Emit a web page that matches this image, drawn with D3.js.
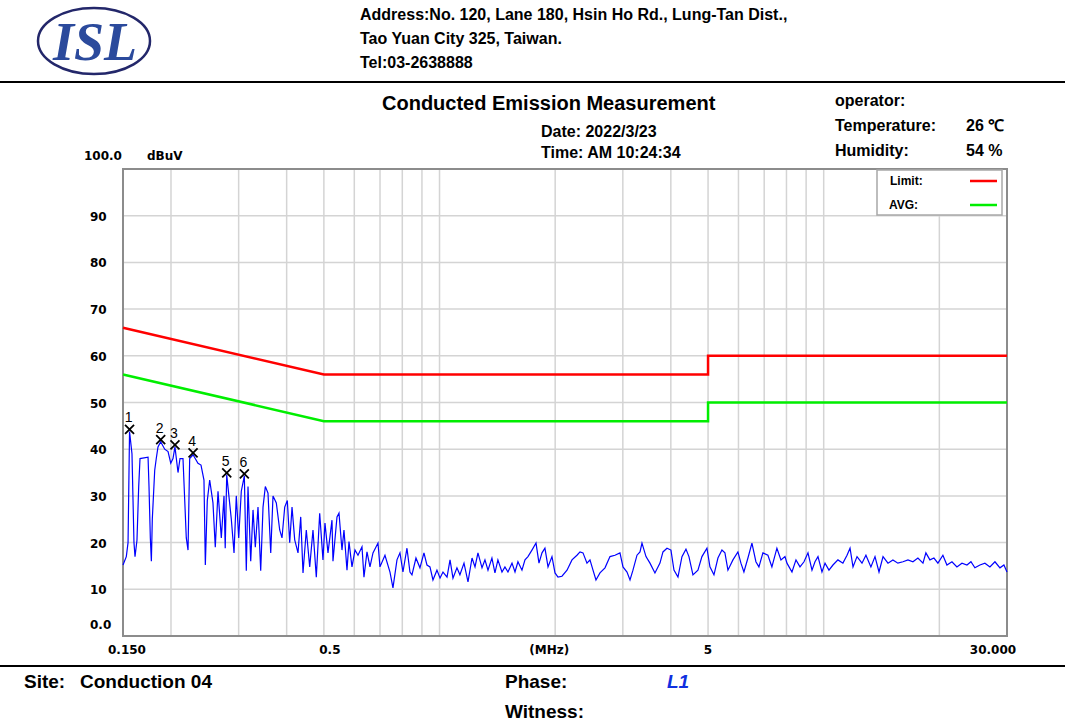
<!DOCTYPE html>
<html>
  <head>
    <meta charset="utf-8">
    <style type="text/css">
      body { margin: 0; background: #fff; }
      svg text { font-family: "Liberation Sans", Arial, sans-serif; }
      .hdr { font-size: 16px; font-weight: bold; }
      .foot { font-size: 19px; font-weight: bold; }
      .tick { font-family: "DejaVu Sans", Verdana, sans-serif !important; font-size: 12px; font-weight: bold; }
      .grid line { stroke: #d4d4d4; stroke-width: 1.5; }
    </style>
  </head>
  <body>
    <script src="https://d3js.org/d3.v7.min.js"></script>
    <script>
      var traceFreq = [0.150,0.153,0.1546,0.156,0.1583,0.1602,0.1612,0.1631,0.1648,0.1661,0.1743,0.1753,0.1767,0.1778,0.1788,0.1814,0.1831,0.1850,0.188,0.1926,
        0.1965,0.1997,0.2024,0.2048,0.2086,0.2111,0.2149,0.2192,0.2215,0.2237,0.2283,0.2351,0.2394,0.2437,0.2457,0.2486,0.2522,0.2572,0.2608,0.2651,
        0.2704,0.2748,0.2768,0.2793,0.2871,0.2918,0.2958,0.3001,0.3048,0.3104,0.3141,0.3173,0.3225,0.3270,0.3315,0.3369,0.3424,0.3472,0.3520,0.3577,
        0.3636,0.3686,0.3760,0.3837,0.3890,0.3954,0.4016,0.4074,0.4131,0.4198,0.4282,0.4352,0.4412,0.4500,0.4593,0.4684,0.4778,0.4876,0.4973,0.5033,
        0.5125,0.5249,0.5280,0.5409,0.5474,0.5573,0.5640,0.5743,0.5812,0.5917,0.6025,0.6134,0.6283,0.6358,0.6474,0.6591,0.6711,0.6915,0.6998,0.7211,
        0.7431,0.7565,0.7749,0.7889,0.8032,0.8227,0.8376,0.8477,0.8683,0.8893,0.9109,0.9274,0.9443,0.9614,0.9847,1.003,1.021,1.046,1.065,1.084,
        1.110,1.130,1.158,1.186,1.215,1.237,1.259,1.290,1.313,1.337,1.369,1.394,1.419,1.454,1.480,1.507,1.544,1.572,1.600,1.639,
        1.669,1.699,1.740,1.783,1.815,1.848,1.881,1.916,1.962,1.998,2.034,2.083,2.147,2.212,2.279,2.321,2.363,2.420,2.464,2.509,
        2.554,2.616,2.696,2.778,2.862,2.949,3.003,3.076,3.132,3.188,3.266,3.325,3.365,3.447,3.530,3.637,3.748,3.816,3.909,4.003,
        4.076,4.175,4.276,4.380,4.459,4.567,4.706,4.820,4.967,5.057,5.180,5.305,5.434,5.532,5.633,5.804,5.980,6.089,6.199,6.350,
        6.504,6.661,6.782,6.947,7.158,7.331,7.554,7.740,7.928,8.024,8.268,8.469,8.675,8.886,9.101,9.322,9.491,9.663,9.897,10.08,
        10.32,10.57,10.89,11.22,11.50,11.71,11.92,12.21,12.58,12.88,13.27,13.60,13.93,14.27,14.70,15.14,15.60,16.08,16.57,17.07,
        17.59,18.13,18.45,18.90,19.36,19.83,20.43,20.93,21.57,22.22,22.90,23.60,24.17,24.75,25.51,26.28,27.08,27.91,28.76,29.45,30.00];
      var traceLevel = [15.2,17,20,43.8,39,20,17,20.5,32,38,38.3,32,21,16,25,35.5,38,40.5,41.6,40,
        39.5,37,38,40.5,35,38,38,21,18.4,38,38.8,37,36.6,33.4,15.2,29,33.4,28.5,19,31,
        21,30,18.8,34.5,25,17.8,30,21,31,34.3,14,32,16,27,19,27.6,14,27.6,32,30.6,
        17.8,30,28.5,22.7,21,27.6,29,20,27.6,20.6,17.8,25.5,13.5,22.7,14.8,22.7,12.6,26.3,16.3,24.2,
        17.8,24.8,16,25.5,26.3,18.4,22.7,14.1,20.2,14.8,18.4,17.3,19.1,12.6,18,14.8,17.8,19.9,14.8,17.3,
        13.7,10.3,16.3,17.8,13.7,18.8,13.7,13.1,16.7,14.6,17.8,15.2,14.8,12,14.1,12.4,13.7,12.6,16.3,12.4,
        14.6,13.1,15.6,11.6,16.7,14.8,17.8,14.6,16.3,14.1,16.7,13.5,16.3,13.7,14.8,13.7,15.6,13.7,15.9,14.1,
        16.3,17,18.4,19.9,15.6,17.8,18.8,14.8,17,13.5,12.6,12.8,14.1,16.3,17.3,18,17.8,15.6,16.3,14.1,
        12,13.5,14.6,17,17.3,17.8,14.8,13.7,12,14.1,17.3,18,19.9,17,15.6,13.5,15.6,18,18.8,18.4,
        14.1,12.6,17,18.6,17,13.1,14.1,17,18.8,14.8,13.1,16.7,18.4,17.8,14.1,16.3,18,15.6,13.7,16.7,
        19.9,15.9,14.8,17.8,17.3,14.8,18.8,16.3,17,15.6,13.7,16.3,14.8,15.9,17.8,14.1,15.9,17,13.7,15.6,
        14.1,15.2,16.3,15.6,17.3,18.8,14.8,17,15.6,17.3,14.8,17,13.7,17,15.6,16.3,15.6,15.9,16.3,15.9,
        16.7,15.6,17.8,16.3,16.7,15.6,17.3,15.2,15.9,14.8,15.6,15.2,15.9,14.6,15.2,15.6,14.8,15.9,14.6,15.2,13.7];

      // limit lines
      var limitFreq = [0.15, 0.5, 5, 5, 30];
      var limitQP = [66, 56, 56, 60, 60];
      var limitAVG = [56, 46, 46, 50, 50];

      // peak markers
      var markerNo = [1, 2, 3, 4, 5, 6];
      var markerFreq = [0.156, 0.188, 0.2048, 0.2283, 0.2793, 0.3104];
      var markerLevel = [43.8, 41.6, 40.5, 38.8, 34.5, 34.3];

      // axes
      var gridFreq = [0.2,0.3,0.4,0.5,0.6,0.7,0.8,0.9,1,2,3,4,5,6,7,8,9,10,20];
      var gridLevel = [10,20,30,40,50,60,70,80,90];
      var yTickValues = [100,90,80,70,60,50,40,30,20,10,0];
      var yTickLabels = ["100.0","90","80","70","60","50","40","30","20","10","0.0"];
      var xTickValues = [0.15, 0.5, 1.93, 5, 30];
      var xTickLabels = ["0.150", "0.5", "(MHz)", "5", "30.000"];

      var width = 1065, height = 723;

      var svg = d3.select("body").append("svg")
          .attr("width", width)
          .attr("height", height);

      var x = d3.scaleLog().domain([0.15, 30]).range([123, 1007]);
      var y = d3.scaleLinear().domain([0, 100]).range([636, 169]);

      // ---------- header ----------
      svg.append("ellipse")
          .attr("cx", 94).attr("cy", 41).attr("rx", 56).attr("ry", 33)
          .attr("fill", "none").attr("stroke", "#23276a").attr("stroke-width", 2.5);
      svg.append("text")
          .attr("x", 95).attr("y", 60)
          .attr("text-anchor", "middle")
          .style("font-family", "'Liberation Serif', 'Times New Roman', serif")
          .style("font-size", "54px").style("font-weight", "bold").style("font-style", "italic")
          .attr("fill", "#2b4a9c")
          .text("ISL");

      var addr = ["Address:No. 120, Lane 180, Hsin Ho Rd., Lung-Tan Dist.,",
                  "Tao Yuan City 325, Taiwan.",
                  "Tel:03-2638888"];
      svg.selectAll("text.addr").data(addr).enter().append("text")
          .attr("class", "hdr addr")
          .attr("x", 360)
          .attr("y", function(d, i) { return 20 + i * 24; })
          .text(function(d) { return d; });

      svg.append("line").attr("x1", 0).attr("x2", width).attr("y1", 82).attr("y2", 82)
          .attr("stroke", "#000").attr("stroke-width", 2);

      svg.append("text").attr("x", 382).attr("y", 110)
          .style("font-size", "20px").style("font-weight", "bold")
          .text("Conducted Emission Measurement");
      svg.append("text").attr("class", "hdr").attr("x", 541).attr("y", 137).text("Date: 2022/3/23");
      svg.append("text").attr("class", "hdr").attr("x", 541).attr("y", 158).text("Time: AM 10:24:34");

      svg.append("text").attr("class", "hdr").attr("x", 835).attr("y", 106).text("operator:");
      svg.append("text").attr("class", "hdr").attr("x", 835).attr("y", 131).text("Temperature:");
      svg.append("text").attr("class", "hdr").attr("x", 835).attr("y", 156).text("Humidity:");
      svg.append("text").attr("class", "hdr").attr("x", 966).attr("y", 131).text("26 \u2103");
      svg.append("text").attr("class", "hdr").attr("x", 966).attr("y", 156).text("54 %");

      // ---------- plot ----------
      var grid = svg.append("g").attr("class", "grid");
      grid.selectAll("line.v").data(gridFreq).enter().append("line")
          .attr("x1", function(d) { return x(d); }).attr("x2", function(d) { return x(d); })
          .attr("y1", y(100)).attr("y2", y(0));
      grid.selectAll("line.h").data(gridLevel).enter().append("line")
          .attr("x1", x(0.15)).attr("x2", x(30))
          .attr("y1", function(d) { return y(d); }).attr("y2", function(d) { return y(d); });

      svg.append("rect")
          .attr("x", x(0.15)).attr("y", y(100))
          .attr("width", x(30) - x(0.15)).attr("height", y(0) - y(100))
          .attr("fill", "none").attr("stroke", "#8c8c8c").attr("stroke-width", 2);

      // y labels
      svg.selectAll("text.ylab").data(yTickValues).enter().append("text")
          .attr("class", "tick")
          .attr("x", function(d) { return d === 100 ? 84 : 90; })
          .attr("y", function(d) {
            if (d === 100) return y(d) - 9;
            if (d === 0) return y(d) - 7;
            return y(d) + 5;
          })
          .text(function(d, i) { return yTickLabels[i]; });
      svg.append("text").attr("class", "tick").attr("x", 147).attr("y", y(100) - 9).text("dBuV");

      // x labels
      svg.selectAll("text.xlab").data(xTickValues).enter().append("text")
          .attr("class", "tick")
          .attr("x", function(d, i) { return i === 0 ? x(d) + 4 : (i === 4 ? x(d) - 14 : x(d) + (i === 1 ? 6 : 0)); })
          .attr("y", 654)
          .attr("text-anchor", "middle")
          .text(function(d, i) { return xTickLabels[i]; });

      // limit lines
      var line = d3.line()
          .x(function(d) { return x(d[0]); })
          .y(function(d) { return y(d[1]); });

      svg.append("path")
          .datum(limitFreq.map(function(f, i) { return [f, limitQP[i]]; }))
          .attr("d", line).attr("fill", "none").attr("stroke", "#ff0000").attr("stroke-width", 2.5);
      svg.append("path")
          .datum(limitFreq.map(function(f, i) { return [f, limitAVG[i]]; }))
          .attr("d", line).attr("fill", "none").attr("stroke", "#00ee00").attr("stroke-width", 2.5);

      // trace
      svg.append("path")
          .datum(traceFreq.map(function(f, i) { return [f, traceLevel[i]]; }))
          .attr("d", line).attr("fill", "none").attr("stroke", "#0000ff").attr("stroke-width", 1.2);

      // markers
      var mk = svg.selectAll("g.mk").data(markerNo).enter().append("g")
          .attr("transform", function(d, i) {
            return "translate(" + x(markerFreq[i]) + "," + (y(markerLevel[i]) - 2) + ")";
          });
      mk.append("path").attr("d", "M-4.5,-4.5L4.5,4.5M-4.5,4.5L4.5,-4.5")
          .attr("stroke", "#000").attr("stroke-width", 1.8);
      mk.append("text").attr("x", -1).attr("y", -7).attr("text-anchor", "middle")
          .style("font-size", "14px")
          .text(function(d) { return d; });

      // legend
      var lg = svg.append("g");
      lg.append("rect").attr("x", 877).attr("y", 170).attr("width", 125).attr("height", 45)
          .attr("fill", "#fff").attr("stroke", "#a8a8a8").attr("stroke-width", 1.5);
      lg.append("text").attr("x", 890).attr("y", 185)
          .style("font-size", "12px").style("font-weight", "bold").text("Limit:");
      lg.append("text").attr("x", 889).attr("y", 209)
          .style("font-size", "12px").style("font-weight", "bold").text("AVG:");
      lg.append("line").attr("x1", 970).attr("x2", 997).attr("y1", 181).attr("y2", 181)
          .attr("stroke", "#ff0000").attr("stroke-width", 2.5);
      lg.append("line").attr("x1", 970).attr("x2", 997).attr("y1", 205).attr("y2", 205)
          .attr("stroke", "#00ee00").attr("stroke-width", 2.5);

      // ---------- footer ----------
      svg.append("line").attr("x1", 0).attr("x2", width).attr("y1", 666).attr("y2", 666)
          .attr("stroke", "#000").attr("stroke-width", 2);
      svg.append("text").attr("class", "foot").attr("x", 24).attr("y", 688).text("Site:");
      svg.append("text").attr("class", "foot").attr("x", 80).attr("y", 688).text("Conduction 04");
      svg.append("text").attr("class", "foot").attr("x", 505).attr("y", 688).text("Phase:");
      svg.append("text").attr("class", "foot").attr("x", 667).attr("y", 688)
          .style("font-style", "italic").attr("fill", "#1030e0").text("L1");
      svg.append("text").attr("class", "foot").attr("x", 505).attr("y", 718).text("Witness:");
    </script>
  </body>
</html>
